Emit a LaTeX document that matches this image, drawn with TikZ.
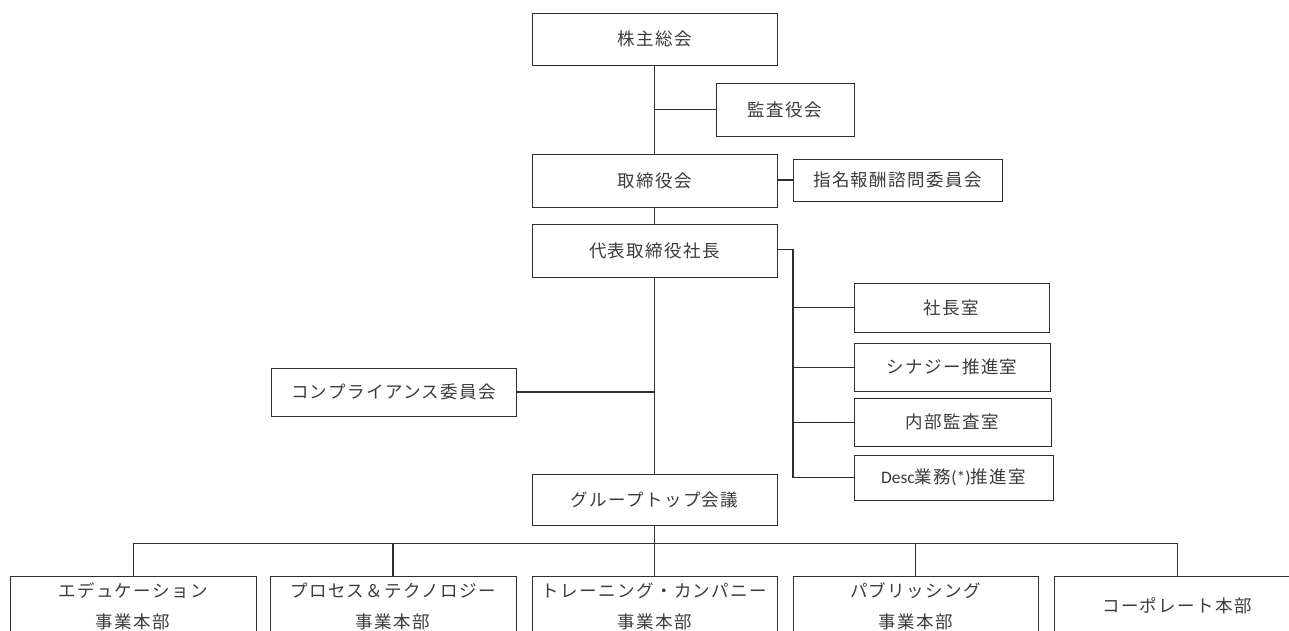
\documentclass[tikz,border=0pt]{standalone}
\usepackage{fontspec}
\newfontfamily\jp[LetterSpace=8]{Noto Sans CJK JP}
\newfontfamily\lat{Carlito}
\definecolor{linec}{HTML}{2E2E2E}
\definecolor{textc}{HTML}{3C3C3C}
\tikzset{
  box/.style={draw=linec, line width=0.8pt, fill=white, text=textc, inner sep=0pt,
    font=\jp\fontsize{17.5}{31}\selectfont, align=center},
  conn/.style={draw=linec, line width=0.8pt},
  heavyconn/.style={draw=linec, line width=1.3pt},
}
\begin{document}
\begin{tikzpicture}[x=1pt,y=-1pt]
\useasboundingbox (0,0) rectangle (1289,631);
\clip (0,0) rectangle (1289,631);
% top chain
\node[box, minimum width=245pt, minimum height=52pt] (kabu) at (654.5,39) {株主総会};
\node[box, minimum width=138pt, minimum height=53pt] (kansa) at (785,109.5) {監査役会};
\node[box, minimum width=245pt, minimum height=53pt] (tori) at (654.5,180.5) {取締役会};
\node[box, minimum width=209pt, minimum height=42pt] (shimei) at (897.5,180) {指名報酬諮問委員会};
\node[box, minimum width=245pt, minimum height=53pt] (daihyo) at (654.5,250.5) {代表取締役社長};
% right staff
\node[box, minimum width=195pt, minimum height=49pt] (shacho) at (951.5,307.5) {社長室};
\node[box, minimum width=196pt, minimum height=48pt] (synergy) at (952,367) {シナジー推進室};
\node[box, minimum width=197pt, minimum height=48pt] (naibu) at (952.5,422) {内部監査室};
\node[box, minimum width=199pt, minimum height=45pt] (desc) at (953.5,477.5) {{\lat Desc}業務{\lat (*)}推進室};
% left
\node[box, minimum width=245pt, minimum height=48pt] (comp) at (393.5,392) {コンプライアンス委員会};
\node[box, minimum width=245pt, minimum height=51pt] (group) at (654.5,499.5) {グループトップ会議};
% bottom divisions
\node[box, minimum width=246pt, minimum height=60pt] (edu) at (133,606) {エデュケーション\\事業本部};
\node[box, minimum width=246pt, minimum height=60pt] (proc) at (393,606) {プロセス＆テクノロジー\\事業本部};
\node[box, minimum width=245pt, minimum height=60pt] (train) at (654.5,606) {トレーニング・カンパニー\\事業本部};
\node[box, minimum width=245pt, minimum height=60pt] (pub) at (915.5,606) {パブリッシング\\事業本部};
\node[box, minimum width=246pt, minimum height=60pt] (corp) at (1177,606) {コーポレート本部};
% coordinates
\coordinate (kj) at (kabu.south |- kansa.west);
\coordinate (rb) at (793,249);
\coordinate (cj) at (daihyo.south |- comp.east);
\coordinate (bus) at (group.south |- 0,543);
% connectors
\draw[conn] (kabu.south) -- (tori.north);
\draw[conn] (kj) -- (kansa.west);
\draw[heavyconn] (tori.east |- shimei.west) -- (shimei.west);
\draw[conn] (tori.south) -- (daihyo.north);
\draw[conn] (daihyo.south) -- (group.north);
\draw[heavyconn] (cj) -- (comp.east);
\draw[conn] (daihyo.east |- rb) -- (rb);
\draw[heavyconn] (rb) -- (rb |- desc.west);
\draw[conn] (rb |- shacho.west) -- (shacho.west);
\draw[conn] (rb |- synergy.west) -- (synergy.west);
\draw[conn] (rb |- naibu.west) -- (naibu.west);
\draw[conn] (rb |- desc.west) -- (desc.west);
\draw[conn] (group.south) -- (bus);
\draw[conn] (edu.north |- bus) -- (corp.north |- bus);
\draw[conn] (edu.north |- bus) -- (edu.north);
\draw[heavyconn] (proc.north |- bus) -- (proc.north);
\draw[conn] (train.north |- bus) -- (train.north);
\draw[heavyconn] (pub.north |- bus) -- (pub.north);
\draw[conn] (corp.north |- bus) -- (corp.north);
\end{tikzpicture}
\end{document}
